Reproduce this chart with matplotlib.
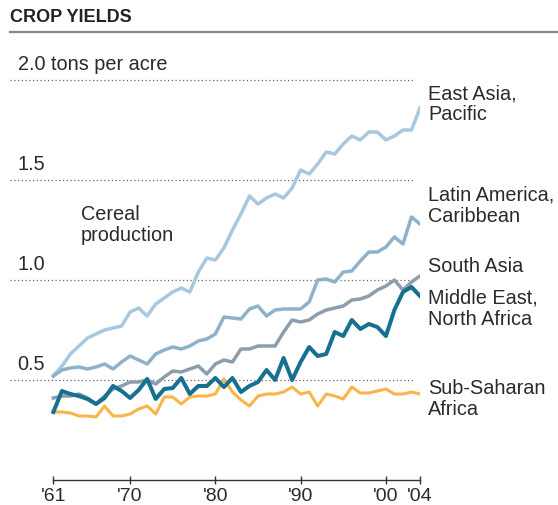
import numpy as np
import matplotlib
matplotlib.use("Agg")
from matplotlib import pyplot as plt

plt.rcParams['font.family'] = ['Liberation Sans', 'DejaVu Sans']

years = np.arange(1961, 2005)

# tons per acre
east_asia = [0.52, 0.57, 0.63, 0.67, 0.71, 0.73, 0.75, 0.76, 0.77, 0.84,
             0.86, 0.82, 0.88, 0.91, 0.94, 0.96, 0.94, 1.04, 1.11, 1.10,
             1.16, 1.25, 1.33, 1.42, 1.38, 1.41, 1.43, 1.41, 1.46, 1.55,
             1.53, 1.58, 1.64, 1.63, 1.68, 1.72, 1.70, 1.74, 1.74, 1.70,
             1.72, 1.75, 1.75, 1.86]
latin_america = [0.52, 0.55, 0.56, 0.565, 0.555, 0.565, 0.58, 0.555, 0.59, 0.62,
                 0.60, 0.58, 0.63, 0.65, 0.665, 0.655, 0.67, 0.695, 0.705, 0.73,
                 0.815, 0.81, 0.805, 0.855, 0.87, 0.82, 0.85, 0.855, 0.855, 0.855,
                 0.89, 1.00, 1.005, 0.99, 1.04, 1.045, 1.095, 1.14, 1.14, 1.165,
                 1.215, 1.18, 1.315, 1.28]
south_asia = [0.41, 0.42, 0.42, 0.43, 0.41, 0.38, 0.42, 0.455, 0.47, 0.49,
              0.49, 0.50, 0.48, 0.515, 0.545, 0.54, 0.555, 0.57, 0.53, 0.58,
              0.60, 0.59, 0.655, 0.655, 0.67, 0.67, 0.67, 0.74, 0.80, 0.79,
              0.80, 0.83, 0.85, 0.86, 0.87, 0.90, 0.905, 0.92, 0.95, 0.97,
              1.00, 0.95, 0.99, 1.02]
middle_east = [0.34, 0.445, 0.43, 0.42, 0.405, 0.38, 0.41, 0.47, 0.445, 0.41,
               0.45, 0.505, 0.405, 0.455, 0.46, 0.51, 0.43, 0.47, 0.47, 0.51,
               0.465, 0.51, 0.44, 0.47, 0.49, 0.55, 0.50, 0.61, 0.50, 0.59,
               0.665, 0.62, 0.63, 0.74, 0.72, 0.80, 0.755, 0.78, 0.765, 0.72,
               0.85, 0.94, 0.965, 0.92]
sub_saharan = [0.34, 0.34, 0.335, 0.32, 0.32, 0.315, 0.37, 0.32, 0.32, 0.33,
               0.355, 0.37, 0.33, 0.415, 0.415, 0.38, 0.415, 0.42, 0.42, 0.43,
               0.505, 0.44, 0.40, 0.37, 0.42, 0.43, 0.43, 0.44, 0.465, 0.43,
               0.44, 0.37, 0.43, 0.42, 0.405, 0.465, 0.435, 0.435, 0.445, 0.455,
               0.43, 0.43, 0.44, 0.43]

grid_vals = [0.5, 1.0, 1.5, 2.0]
grid_labels = ['0.5', '1.0', '1.5', '2.0 tons per acre']
tick_years = [1961, 1970, 1980, 1990, 2000, 2004]
tick_labels = ["'61", "'70", "'80", "'90", "'00", "'04"]

fig = plt.figure(figsize=(5.58, 5.06), dpi=100)
ax = fig.add_axes([10 / 558, 25 / 506, 410 / 558, 420 / 506])
x0 = 1961 - 43.3 / 8.51
ax.set_xlim(x0, 2004)
ax.set_ylim(0, 2.1)
ax.patch.set_alpha(0)

txt = '#2a2a2a'

# gridlines + labels
ax.hlines(grid_vals, x0, 2003.3, colors='#666666', linestyles=(0, (1, 2)), linewidth=0.9)
for v, lab in zip(grid_vals, grid_labels):
    ax.text(x0 + 0.9, v + 0.035, lab, fontsize=14.3, color=txt, va='bottom', ha='left')

# series
ax.plot(years, east_asia, color='#a8c8dd', lw=2.5)
ax.plot(years, latin_america, color='#8db2ca', lw=2.5)
ax.plot(years, south_asia, color='#8c9eac', lw=2.5)
ax.plot(years, sub_saharan, color='#f8b54a', lw=2.2)
ax.plot(years, middle_east, color='#17708f', lw=2.9)

# axis
for s in ['top', 'right', 'left']:
    ax.spines[s].set_visible(False)
ax.spines['bottom'].set_bounds(1961, 2004)
ax.spines['bottom'].set_color('#333333')
ax.spines['bottom'].set_linewidth(1.0)
ax.set_yticks([])
ax.set_xticks(tick_years)
ax.set_xticklabels(tick_labels, fontsize=14, color=txt)
ax.tick_params(axis='x', length=6, width=1.0, color='#333333', pad=2, direction='inout')

# series labels (right side)
fs = 14.3
ls = 1.15
lx = 2004 + 8 / 8.51
ax.text(lx, 1.985, 'East Asia,\nPacific', fontsize=fs, color=txt, va='top', ha='left', linespacing=ls, clip_on=False)
ax.text(lx, 1.475, 'Latin America,\nCaribbean', fontsize=fs, color=txt, va='top', ha='left', linespacing=ls, clip_on=False)
ax.text(lx, 1.12, 'South Asia', fontsize=fs, color=txt, va='top', ha='left', clip_on=False)
ax.text(lx, 0.96, 'Middle East,\nNorth Africa', fontsize=fs, color=txt, va='top', ha='left', linespacing=ls, clip_on=False)
ax.text(lx, 0.51, 'Sub-Saharan\nAfrica', fontsize=fs, color=txt, va='top', ha='left', linespacing=ls, clip_on=False)
ax.text(1964.2, 1.38, 'Cereal\nproduction', fontsize=fs, color=txt, va='top', ha='left', linespacing=ls)

# title + rule
fig.text(10 / 558, 1 - 18 / 506, 'CROP YIELDS', fontsize=13, fontweight='bold',
         color='#222222', va='center', ha='left')
fig.add_artist(plt.Line2D([10 / 558, 1], [1 - 33 / 506, 1 - 33 / 506], color='#888888', lw=1.6))

fig.savefig('out.png', dpi=100)
